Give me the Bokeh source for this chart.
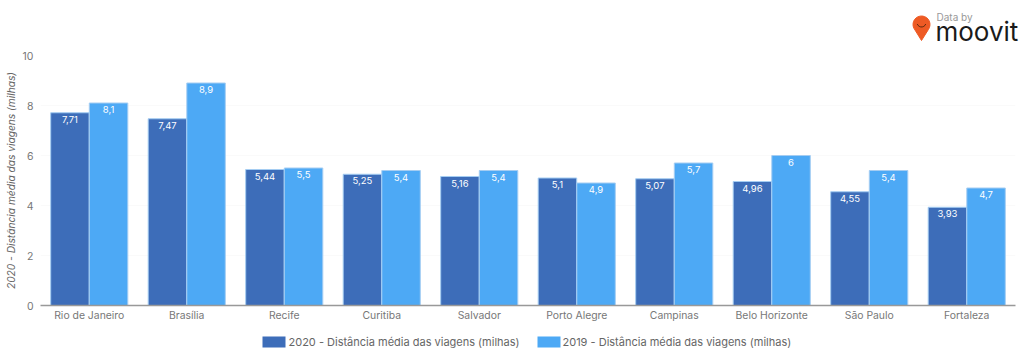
import math
from bokeh.plotting import figure
from bokeh.layouts import column, row
from bokeh.embed import file_html
from bokeh.resources import INLINE
from bokeh.models import ColumnDataSource, FactorRange
from bokeh.transform import dodge
from bokeh.core.properties import value

cities = ["Rio de Janeiro", "Brasília", "Recife", "Curitiba", "Salvador", "Porto Alegre", "Campinas", "Belo Horizonte", "São Paulo", "Fortaleza"]
v2020 = [7.71, 7.47, 5.44, 5.25, 5.16, 5.1, 5.07, 4.96, 4.55, 3.93]
v2019 = [8.1, 8.9, 5.5, 5.4, 5.4, 4.9, 5.7, 6, 5.4, 4.7]
name2020 = "2020 - Distância média das viagens (milhas)"
name2019 = "2019 - Distância média das viagens (milhas)"
ylabel = "2020 - Distância média das viagens (milhas)"

FONT = "Inter"
COL20 = "#3D6DB9"
COL19 = "#4DA9F5"
fmt = lambda v: f"{v:g}".replace(".", ",")
src = ColumnDataSource(dict(city=cities, a=v2020, b=v2019, la=[fmt(v) for v in v2020], lb=[fmt(v) for v in v2019]))


def strip(h, y0, x0, x1, left, right):
    s = figure(x_range=(x0, x1), y_range=(y0 + h, y0), width=1024, height=h, output_backend="svg",
               toolbar_location=None, min_border=0, min_border_left=left, min_border_right=right,
               x_axis_location=None, y_axis_location=None, outline_line_color=None)
    s.grid.visible = False
    return s


# logo strip (page pixel coordinates, y downward)
logo = strip(47, 0, 0, 1024, 0, 0)
ang = [math.radians(a) for a in range(-35, 216, 15)]
logo.patch([921 + 8.5*math.cos(a) for a in ang] + [921], [24 - 8.5*math.sin(a) for a in ang] + [40],
           fill_color="#EE5A24", line_color="#EE5A24")
sm = [math.radians(a) for a in range(200, 341, 20)]
logo.line([921 + 4.5*math.cos(a) for a in sm], [22 - 4.5*math.sin(a) for a in sm], line_color="#5a2a10", line_width=1)
logo.text(x=[936], y=[16], text=["Data by"], text_font=value(FONT), text_font_size="10px", text_color="#999999",
          text_baseline="middle")
logo.text(x=[935], y=[31], text=["moovit"], text_font=value(FONT), text_font_size="26px", text_color="#1a1a1a",
          text_baseline="middle")

p = figure(x_range=FactorRange(*cities, range_padding=0, factor_padding=0), y_range=(0, 10),
           width=1024, height=288, output_backend="svg", toolbar_location=None,
           min_border_left=40, min_border_right=9, min_border_top=8, min_border_bottom=30)
p.outline_line_color = None
p.xgrid.visible = False
p.ygrid.grid_line_color = "#fafafa"
p.ygrid.grid_line_width = 1

w = 0.395
edge = "#a5cdf2"
p.vbar(x=dodge("city", -0.198, range=p.x_range), top="a", width=w, source=src,
       fill_color=COL20, line_color=edge, line_width=1)
p.vbar(x=dodge("city", 0.198, range=p.x_range), top="b", width=w, source=src,
       fill_color=COL19, line_color=edge, line_width=1)
for col, lab, off in (("a", "la", -0.198), ("b", "lb", 0.198)):
    p.text(x=dodge("city", off, range=p.x_range), y=col, text=lab, source=src,
           text_font=value(FONT), text_font_size="9.5px", text_color="white", text_font_style="normal",
           text_align="center", text_baseline="top", y_offset=3)

ax = p.xaxis[0]
ax.axis_line_color = "#999999"
ax.axis_line_width = 1.5
ax.major_tick_line_color = None
ax.minor_tick_line_color = None
ax.major_tick_out = 0
ax.major_label_text_font = FONT
ax.major_label_text_font_size = "10.4px"
ax.major_label_text_color = "#777777"
ax.major_label_standoff = 3

ay = p.yaxis[0]
ay.axis_line_color = None
ay.major_tick_line_color = None
ay.minor_tick_line_color = None
ay.major_tick_out = 0
ay.ticker = [0, 2, 4, 6, 8, 10]
ay.major_label_text_font = FONT
ay.major_label_text_font_size = "10.5px"
ay.major_label_text_color = "#777777"
ay.major_label_standoff = 7
ay.axis_label = ylabel
ay.axis_label_text_font = FONT
ay.axis_label_text_font_size = "10.2px"
ay.axis_label_text_font_style = "italic"
ay.axis_label_text_color = "#666666"
ay.axis_label_standoff = 3

# legend strip (page pixel coordinates)
leg = strip(13, 335, 40, 1015, 40, 9)
leg.quad(left=[262, 537], right=[285, 560], top=[336, 336], bottom=[347, 347], fill_color=[COL20, COL19], line_color=None)
leg.text(x=[288, 562], y=[341.5, 341.5], text=[name2020, name2019], text_font=value(FONT), text_font_size="11px",
         text_color="#666666", text_baseline="middle")

open("out.html", "w").write(file_html(column(row(logo), p, leg, spacing=0), INLINE))
